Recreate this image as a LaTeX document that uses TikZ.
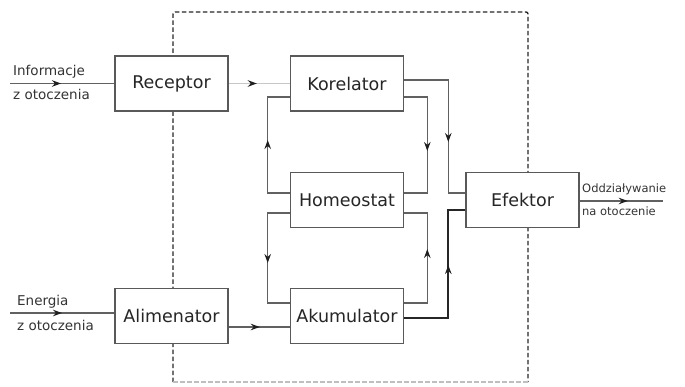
\documentclass[tikz,border=0pt]{standalone}
\usepackage{fontspec}
\setmainfont{DejaVu Sans}
\usetikzlibrary{arrows.meta,decorations.markings}
\begin{document}
\begin{tikzpicture}[x=1pt,y=-1pt,
  blk/.style={draw=black!65, fill=white, line width=1.6pt, minimum width=113pt, minimum height=55pt,
    inner sep=0pt, font=\fontsize{17.5}{20}\selectfont, text=black!85},
  conn/.style={draw=black!62, line width=1.4pt},
  arrat/.style={postaction={decorate}, decoration={markings,
    mark=at position #1 with {\arrow[black!88]{Stealth[length=9pt,width=6.5pt]}}}},
  lbl/.style={font=\fontsize{13.5}{16}\selectfont, text=black!80, inner sep=0pt, anchor=west},
  lblr/.style={lbl, font=\fontsize{11.5}{14}\selectfont},
  frame/.style={draw=black!85, line width=1.4pt, dash pattern=on 4.5pt off 2.5pt}]
\useasboundingbox (0,0) rectangle (685,387);
% dashed system boundary
\coordinate (f1) at (173,382);
\coordinate (f2) at (173,12);
\coordinate (f3) at (528,12);
\coordinate (f4) at (528,382);
\draw[frame, rounded corners=2pt] (f1) -- (f2) -- (f3) -- (f4);
\draw[frame, draw=black!25] (f1) -- (f4);
% blocks
\node[blk] (rec) at (171.5,83.5) {Receptor};
\node[blk] (ali) at (171.5,316) {Alimenator};
\node[blk] (kor) at (347,83.5) {Korelator};
\node[blk] (hom) at (347,200) {Homeostat};
\node[blk] (aku) at (347,316) {Akumulator};
\node[blk] (efe) at (522.5,200) {Efektor};
% free ends
\coordinate (in1) at (10,83.5);
\coordinate (in2) at (10,313);
\coordinate (out) at (663,201);
% inputs
\draw[conn, arrat=51pt] (in1) -- (rec.west);
\draw[conn, arrat=52pt] (in2) -- (ali.west |- in2);
\draw[conn, draw=black!22, arrat=28pt] (rec.east) -- (kor.west);
\draw[conn, arrat=31pt] ([yshift=-11pt]ali.east) -- ([yshift=-11pt]aku.west);
% Homeostat <-> Korelator / Akumulator (left)
\draw[conn, arrat=75pt] ([yshift=7pt]hom.west) -- ++(-22,0) |- ([yshift=-13.5pt]kor.west);
\draw[conn, arrat=72pt] ([yshift=-13pt]hom.west) -- ++(-22,0) |- ([yshift=13pt]aku.west);
% right side
\draw[conn, arrat=77pt] ([yshift=-13.5pt]kor.east) -- ++(23,0) |- ([yshift=7pt]hom.east);
\draw[conn, arrat=77pt] ([yshift=13pt]aku.east) -- ++(23,0) |- ([yshift=-13pt]hom.east);
\draw[conn, arrat=106pt] ([yshift=3.5pt]kor.east) -- ++(44,0) |- ([yshift=7pt]efe.west);
\draw[conn, draw=black!85, line width=1.7pt, arrat=97pt] ([yshift=-2pt]aku.east) -- ++(44,0) |- ([yshift=-10pt]efe.west);
% output
\draw[conn, arrat=48pt] (efe.east |- out) -- (out);
% labels
\node[lbl] (t1) at (13,72) {Informacje};
\node[lbl] (t2) at (13,94) {z otoczenia};
\node[lbl] (t3) at (17,302) {Energia};
\node[lbl] (t4) at (17,325) {z otoczenia};
\node[lblr] (t5) at (582,189) {Oddziaływanie};
\node[lblr] (t6) at (582,211) {na otoczenie};
\end{tikzpicture}
\end{document}
